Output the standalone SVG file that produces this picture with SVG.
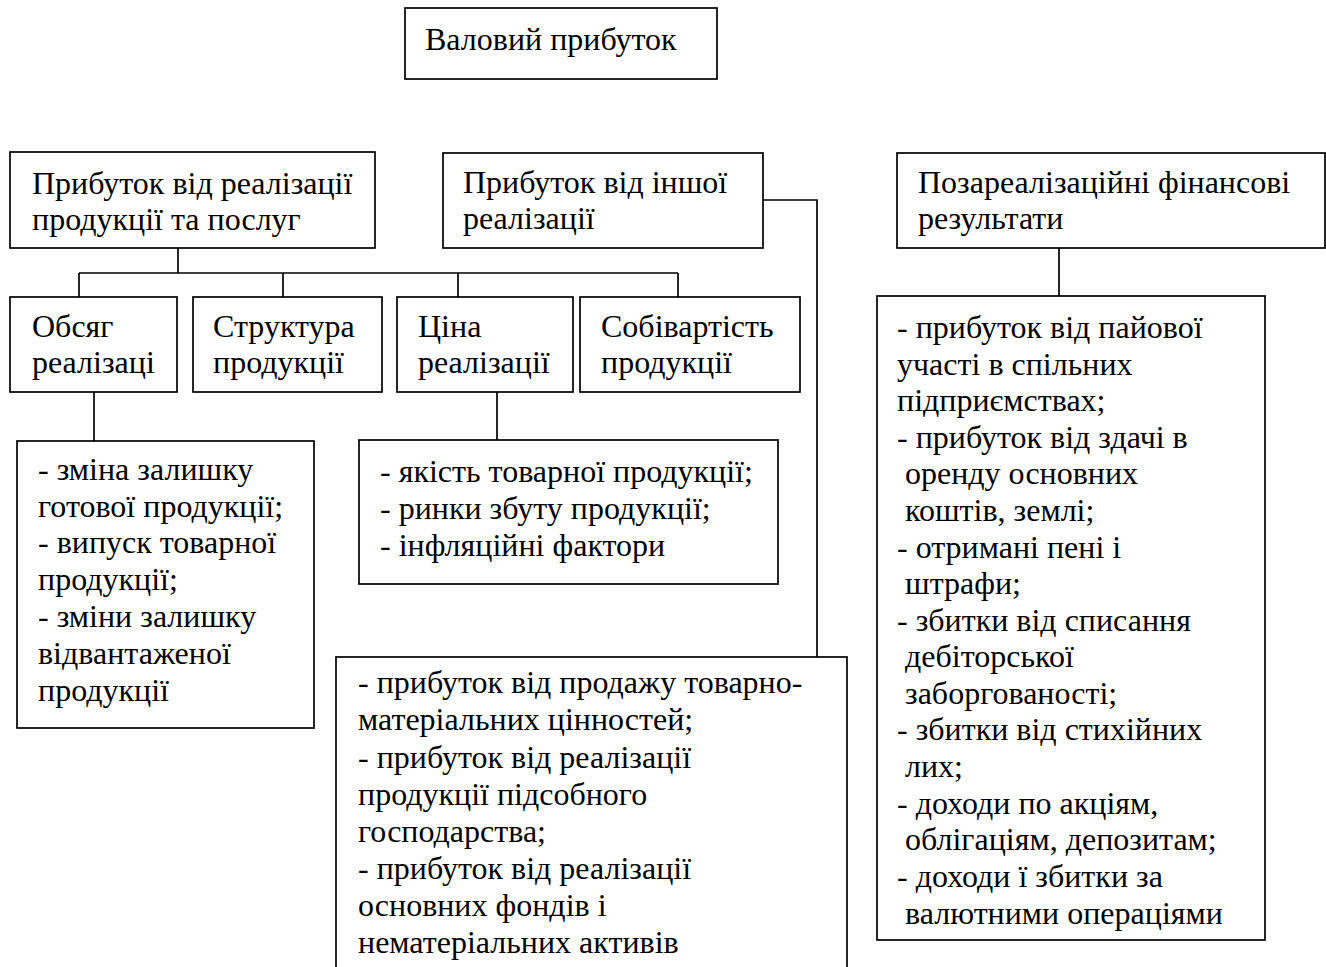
<svg xmlns="http://www.w3.org/2000/svg" width="1326" height="967" viewBox="0 0 1326 967">
<style>
rect{fill:#fff;stroke:#000;stroke-width:1.7}
.c line,.c polyline{fill:none;stroke:#000;stroke-width:1.7}
text{font-family:"Liberation Serif","Times New Roman",serif;font-size:32px;fill:#000}
</style>
<rect x="0" y="0" width="1326" height="967" style="stroke:none"/>
<g class="c" id="connectors">
<line x1="178" y1="248" x2="178" y2="273"/>
<line x1="79" y1="273" x2="678" y2="273"/>
<line x1="79" y1="273" x2="79" y2="297"/>
<line x1="283" y1="273" x2="283" y2="297"/>
<line x1="458" y1="273" x2="458" y2="297"/>
<line x1="678" y1="273" x2="678" y2="297"/>
<line x1="94" y1="392" x2="94" y2="441"/>
<line x1="497" y1="392" x2="497" y2="440"/>
<polyline points="763,200 817,200 817,657"/>
<line x1="1059" y1="248" x2="1059" y2="296"/>
</g>
<g id="gross">
<rect x="405" y="8" width="312" height="71"/>
<text x="425" y="50">Валовий прибуток</text>
</g>
<g id="sales">
<rect x="10" y="152" width="365" height="96"/>
<text x="32" y="194">Прибуток від реалізації</text>
<text x="32" y="230">продукції та послуг</text>
</g>
<g id="other">
<rect x="443" y="153" width="320" height="95"/>
<text x="463" y="193">Прибуток від іншої</text>
<text x="463" y="229">реалізації</text>
</g>
<g id="nonsales">
<rect x="897" y="153" width="428" height="95"/>
<text x="918" y="193">Позареалізаційні фінансові</text>
<text x="918" y="229">результати</text>
</g>
<g id="volume">
<rect x="10" y="297" width="167" height="95"/>
<text x="32" y="337">Обсяг</text>
<text x="32" y="373">реалізаці</text>
</g>
<g id="structure">
<rect x="193" y="297" width="189" height="95"/>
<text x="213" y="337">Структура</text>
<text x="213" y="373">продукції</text>
</g>
<g id="price">
<rect x="397" y="297" width="176" height="95"/>
<text x="418" y="337">Ціна</text>
<text x="418" y="373">реалізації</text>
</g>
<g id="cost">
<rect x="580" y="297" width="220" height="95"/>
<text x="601" y="337">Собівартість</text>
<text x="601" y="373">продукції</text>
</g>
<g id="volume-factors">
<rect x="17" y="441" width="297" height="287"/>
<text x="38" y="480">- зміна залишку</text>
<text x="38" y="517">готової продукції;</text>
<text x="38" y="553">- випуск товарної</text>
<text x="38" y="590">продукції;</text>
<text x="38" y="627">- зміни залишку</text>
<text x="38" y="664">відвантаженої</text>
<text x="38" y="701">продукції</text>
</g>
<g id="price-factors">
<rect x="359" y="440" width="419" height="144"/>
<text x="380" y="482">- якість товарної продукції;</text>
<text x="380" y="519">- ринки збуту продукції;</text>
<text x="380" y="556">- інфляційні фактори</text>
</g>
<g id="other-items">
<rect x="336" y="657" width="511" height="330"/>
<text x="358" y="693">- прибуток від продажу товарно-</text>
<text x="358" y="730">матеріальних цінностей;</text>
<text x="358" y="768">- прибуток від реалізації</text>
<text x="358" y="805">продукції підсобного</text>
<text x="358" y="842">господарства;</text>
<text x="358" y="879">- прибуток від реалізації</text>
<text x="358" y="916">основних фондів і</text>
<text x="358" y="953">нематеріальних активів</text>
</g>
<g id="nonsales-items">
<rect x="877" y="296" width="388" height="644"/>
<text x="897" y="338">- прибуток від пайової</text>
<text x="897" y="375">участі в спільних</text>
<text x="897" y="411">підприємствах;</text>
<text x="897" y="448">- прибуток від здачі в</text>
<text x="905" y="484">оренду основних</text>
<text x="905" y="521">коштів, землі;</text>
<text x="897" y="558">- отримані пені і</text>
<text x="905" y="594">штрафи;</text>
<text x="897" y="631">- збитки від списання</text>
<text x="905" y="667">дебіторської</text>
<text x="905" y="704">заборгованості;</text>
<text x="897" y="740">- збитки від стихійних</text>
<text x="905" y="777">лих;</text>
<text x="897" y="814">- доходи по акціям,</text>
<text x="905" y="850">облігаціям, депозитам;</text>
<text x="897" y="887">- доходи ї збитки за</text>
<text x="905" y="924">валютними операціями</text>
</g>
</svg>
